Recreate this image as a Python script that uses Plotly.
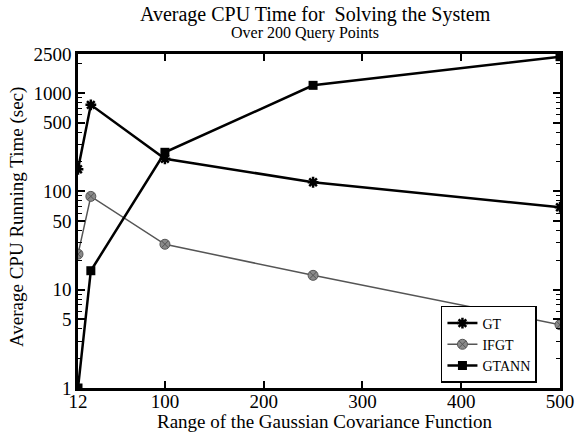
import plotly.graph_objects as go

# 数据
x_vals = [12, 25, 100, 250, 500]
gt_time = [168, 760, 215, 124, 69]
ifgt_time = [23, 89, 29, 14, 4.4]
gtann_time = [1, 15.6, 250, 1200, 2350]

y_ticks = [1, 5, 10, 50, 100, 500, 1000, 2500]
x_ticks = [12, 100, 200, 300, 400, 500]
y_minor = [2, 3, 4, 6, 7, 8, 9, 20, 30, 40, 60, 70, 80, 90,
           200, 300, 400, 600, 700, 800, 900, 2000]

FONT = "Liberation Serif"
W, H = 583, 436

fig = go.Figure()

fig.add_trace(go.Scatter(
    x=x_vals, y=gt_time, name="GT", mode="lines+markers",
    line=dict(color="black", width=2.5),
    marker=dict(symbol="asterisk-open", size=9, color="black",
                line=dict(color="black", width=2.5)),
))
fig.add_trace(go.Scatter(
    x=x_vals, y=ifgt_time, name="IFGT", mode="lines+markers",
    line=dict(color="#555555", width=1.5),
    marker=dict(symbol="circle-x", size=10, color="#8a8a8a",
                line=dict(color="#555555", width=1)),
))
fig.add_trace(go.Scatter(
    x=x_vals, y=gtann_time, name="GTANN", mode="lines+markers",
    line=dict(color="black", width=2.5),
    marker=dict(symbol="square", size=9, color="black"),
))

axis_common = dict(
    showline=True, linecolor="black", linewidth=2.5, mirror="ticks",
    ticks="inside", ticklen=7, tickwidth=1.5, tickcolor="black",
    showgrid=False, zeroline=False, automargin=False,
    tickfont=dict(family=FONT, size=19, color="black"),
)

# 文字标注（标题、副标题、坐标轴标题）用像素定位
def text_at(text, px, py, size, angle=0):
    return dict(
        text=text, xref="paper", yref="paper",
        x=(px - 78) / (W - 78 - 23), y=(388 - py) / (388 - 54),
        xanchor="center", yanchor="middle", textangle=angle,
        showarrow=False, font=dict(family=FONT, size=size, color="black"),
    )

fig.update_layout(
    width=W, height=H,
    margin=dict(l=78, r=23, t=54, b=48),
    paper_bgcolor="white", plot_bgcolor="white",
    font=dict(family=FONT, color="black"),
    xaxis=dict(range=[12, 500], tickvals=x_ticks, ticklabelstandoff=-6,
               **axis_common),
    yaxis=dict(
        type="log", range=[0, 3.398], tickvals=y_ticks,
        minor=dict(tickvals=y_minor, ticks="inside", ticklen=4,
                   tickcolor="black", tickwidth=1, showgrid=False),
        **axis_common,
    ),
    legend=dict(
        x=0.753, y=0.015, xanchor="left", yanchor="bottom",
        bgcolor="white", bordercolor="black", borderwidth=1.5,
        font=dict(family=FONT, size=14, color="black"),
        tracegroupgap=0, itemwidth=30,
    ),
    annotations=[
        text_at("Average CPU Time for  Solving the System", 315, 15, 20),
        text_at("Over 200 Query Points", 305, 33, 16),
        text_at("Range of the Gaussian Covariance Function", 325, 421, 19),
        text_at("Average CPU Running Time (sec)", 17, 217, 19, angle=-90),
    ],
    showlegend=True,
)

# 去掉页面默认的 body 边距和工具栏，使图表贴齐窗口
fig.write_html("out.html", config={"displayModeBar": False},
               post_script="document.body.style.margin='0';")
